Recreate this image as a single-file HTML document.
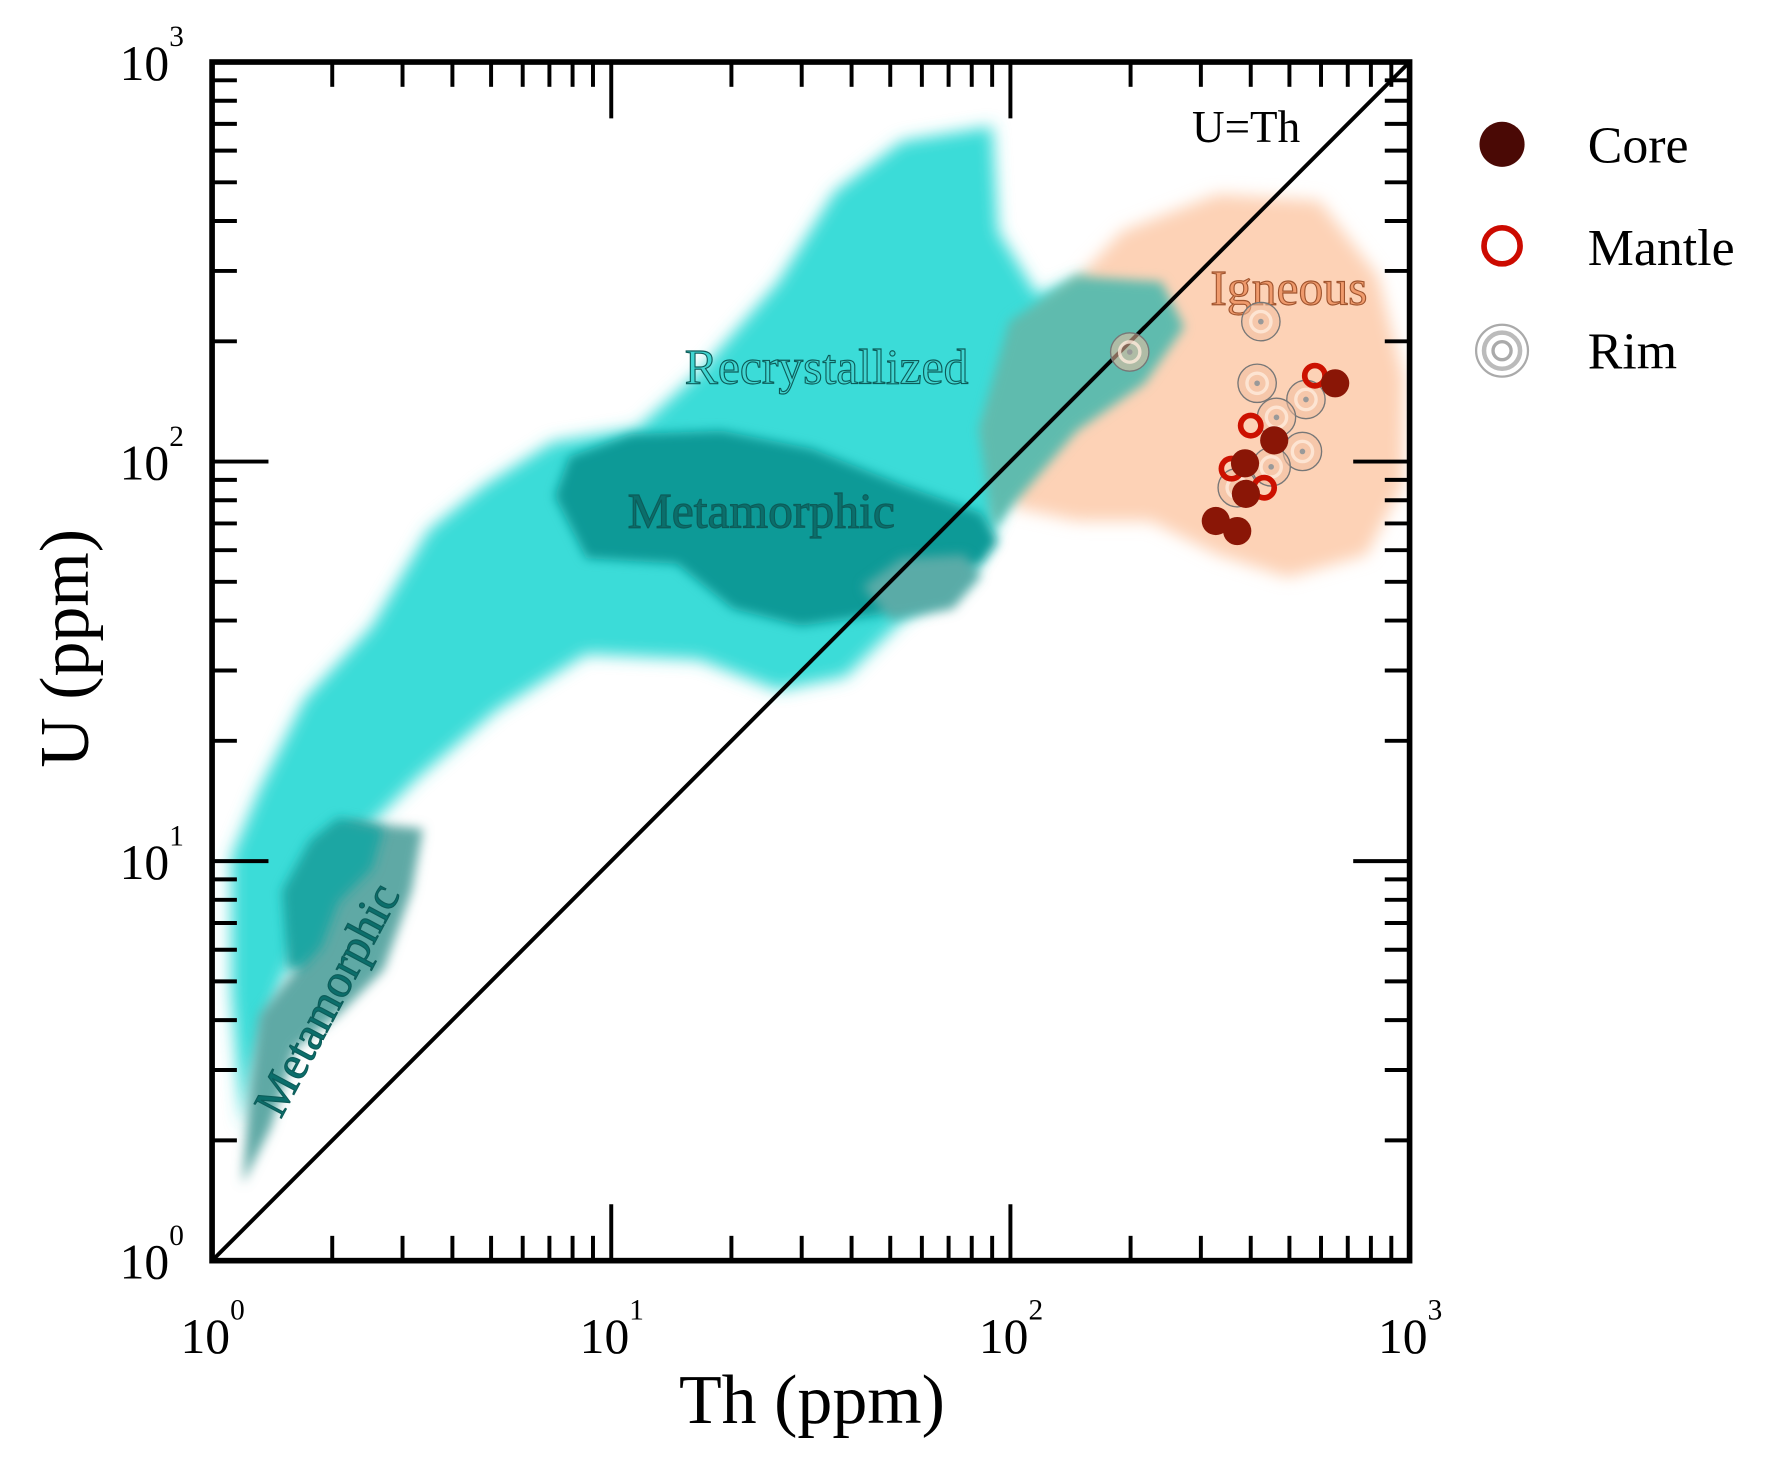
<!DOCTYPE html>
<html><head><meta charset="utf-8">
<style>
html,body{margin:0;padding:0;background:#fff;}
svg{display:block;}
svg text{font-family:"Liberation Serif","Times New Roman",serif;}
</style></head>
<body>
<svg id="chart" width="1766" height="1467" viewBox="0 0 1566 1301" xmlns="http://www.w3.org/2000/svg" font-family="Liberation Serif, serif">
<defs>
<filter id="blur" x="-20%" y="-20%" width="140%" height="140%"><feGaussianBlur stdDeviation="7"/></filter>
<filter id="blur2" x="-20%" y="-20%" width="140%" height="140%"><feGaussianBlur stdDeviation="5"/></filter>
<clipPath id="plotclip"><rect x="188" y="55" width="1062" height="1063"/></clipPath>
</defs>
<g clip-path="url(#plotclip)">
<path filter="url(#blur)" fill="#3adcd8" d="M215,1000 L205,880 L205,760 L230,700 L270,620 L330,555 L380,470 L430,430 L490,392 L565,380 L620,330 L690,250 L740,170 L800,125 L880,112 L885,205 L920,262 L960,245 L1000,260 L960,330 L900,390 L885,460 L860,510 L800,550 L750,600 L690,612 L620,585 L520,580 L440,630 L370,690 L330,730 L285,800 L250,870 L225,950 Z"/>
<path filter="url(#blur)" fill="#fdd2b6" d="M900,450 L880,380 L920,285 L995,205 L1080,172 L1170,178 L1222,245 L1245,335 L1244,430 L1212,492 L1142,512 L1080,492 L1020,462 L955,462 Z"/>
<path filter="url(#blur2)" fill="#5fbbae" d="M868,380 L895,285 L955,245 L1030,250 L1050,290 L1015,340 L955,382 L905,440 L880,470 Z"/>
<path filter="url(#blur2)" fill="#0f9a97" d="M492,440 L505,405 L560,385 L640,382 L720,398 L800,430 L870,455 L885,480 L870,500 L820,520 L780,545 L710,555 L650,540 L600,500 L520,495 Z"/>
<path filter="url(#blur2)" fill="#5aaba7" d="M765,520 L800,495 L855,492 L870,510 L845,540 L790,550 Z"/>
<path filter="url(#blur2)" fill="#5ea9a5" d="M215,1050 L222,960 L230,900 L262,860 L280,760 L312,728 L375,735 L365,790 L340,860 L300,900 L262,930 L240,1000 Z"/>
<path filter="url(#blur2)" fill="#1aa6a3" d="M255,860 L250,790 L275,745 L300,725 L340,735 L330,770 L300,800 L285,840 L268,858 Z"/>
</g>
<g stroke="#0c5c59" stroke-width="1">
<text x="733" y="340" font-size="44" text-anchor="middle" fill="#40d6d2">Recrystallized</text>
<text x="675" y="468" font-size="44" text-anchor="middle" fill="#0b6e6b">Metamorphic</text>
<text x="1143" y="270" font-size="44" text-anchor="middle" fill="#ef9a6c" stroke="#a0542e">Igneous</text>
<text x="0" y="0" font-size="42" text-anchor="middle" fill="#0b6e6b" transform="translate(302,893) rotate(-62)">Metamorphic</text>
</g>
<g id="axes"></g>
<g id="marks"></g>
<text x="1105" y="126" font-size="40" text-anchor="middle" fill="#000">U=Th</text>
<text x="720" y="1262" font-size="62" text-anchor="middle" fill="#000">Th (ppm)</text>
<text x="0" y="0" font-size="62" text-anchor="middle" fill="#000" transform="translate(78,575) rotate(-90)">U (ppm)</text>
<g>
<g>
<circle cx="1332" cy="128" r="20" fill="#4a0905"/>
<text x="1408" y="144" font-size="46" fill="#000">Core</text></g>
<g>
<circle cx="1332" cy="218" r="16" fill="none" stroke="#cc0a00" stroke-width="5"/>
<text x="1408" y="235" font-size="46" fill="#000">Mantle</text></g>
<g>
<circle cx="1332" cy="311" r="23" fill="none" stroke="#aaa" stroke-width="2"/>
<circle cx="1332" cy="311" r="16" fill="none" stroke="#bbb" stroke-width="4"/>
<circle cx="1332" cy="311" r="8" fill="none" stroke="#aaa" stroke-width="3"/>
<text x="1408" y="327" font-size="46" fill="#000">Rim</text></g>
</g>
</svg>
<script>
const xTickLabels = ["0","1","2","3"];
const yTickLabels = ["0","1","2","3"];
const coreTh = [327, 370, 387, 389, 458, 651];
const coreU  = [71, 67, 99, 83, 113, 157];
const mantleTh = [400, 358, 432, 579];
const mantleU  = [123, 96, 86, 164];
const rimTh = [199, 424, 415, 550, 464, 539, 450, 370];
const rimU  = [188, 224, 157, 143, 129, 106, 97, 86];

const X0=188, X1=1250, Y0=1118, Y1=55;
const NS="http://www.w3.org/2000/svg";
function xs(v){return X0+(Math.log10(v)-0)/3*(X1-X0);}
function ys(v){return Y0-(Math.log10(v)-0)/3*(Y0-Y1);}
function mk(tag,attrs,parent){const e=document.createElementNS(NS,tag);for(const k in attrs)e.setAttribute(k,attrs[k]);parent.appendChild(e);return e;}

const axes=document.getElementById('axes');
const diag=mk('line',{x1:xs(1),y1:ys(1),x2:xs(1000),y2:ys(1000),stroke:'#000','stroke-width':3.5},axes);


for(let d=0;d<3;d++){
  for(let m=1;m<=9;m++){
    const v=m*Math.pow(10,d);
    const major=(m===1);
    const len=major?50:22;
    const x=xs(v), y=ys(v);
    if(!(major&&d===0)){
      const t1=mk('line',{x1:x,y1:Y0,x2:x,y2:Y0-len,stroke:'#000','stroke-width':3.5},axes);
      
      
      const t2=mk('line',{x1:x,y1:Y1,x2:x,y2:Y1+len,stroke:'#000','stroke-width':3.5},axes);
      
      
      const t3=mk('line',{x1:X0,y1:y,x2:X0+len,y2:y,stroke:'#000','stroke-width':3.5},axes);
      
      
      const t4=mk('line',{x1:X1,y1:y,x2:X1-len,y2:y,stroke:'#000','stroke-width':3.5},axes);
      
      
    }
  }
}
const frame=mk('rect',{x:X0,y:Y1,width:X1-X0,height:Y0-Y1,fill:'none',stroke:'#000','stroke-width':5},axes);


xTickLabels.forEach((e,i)=>{
  const x=xs(Math.pow(10,+e));
  const t=mk('text',{x:x-28,y:1200,'font-size':44,fill:'#000'},axes);
  
  
  t.textContent='10';
  const s=mk('text',{x:x+16,y:1170,'font-size':26,fill:'#000'},axes);
  
  
  s.textContent=e;
});
yTickLabels.forEach((e,i)=>{
  const y=ys(Math.pow(10,+e));
  const t=mk('text',{x:106,y:y+16,'font-size':44,fill:'#000'},axes);
  
  
  t.textContent='10';
  const s=mk('text',{x:150,y:y-14,'font-size':26,fill:'#000'},axes);
  
  
  s.textContent=e;
});

const marks=document.getElementById('marks');
rimTh.forEach((v,i)=>{
  const g=mk('g',{},marks);
  
  
  const cx=xs(v), cy=ys(rimU[i]);
  mk('circle',{cx:cx,cy:cy,r:17,fill:'rgba(240,190,160,0.55)',stroke:'#777','stroke-width':1.2},g);
  mk('circle',{cx:cx,cy:cy,r:9,fill:'none',stroke:'rgba(255,235,220,0.8)','stroke-width':3},g);
  mk('circle',{cx:cx,cy:cy,r:2.5,fill:'#999'},g);
});
mantleTh.forEach((v,i)=>{
  const c=mk('circle',{cx:xs(v),cy:ys(mantleU[i]),r:9,fill:'none',stroke:'#cc1100','stroke-width':5},marks);
  
  
});
coreTh.forEach((v,i)=>{
  const c=mk('circle',{cx:xs(v),cy:ys(coreU[i]),r:12.5,fill:'#8a1606'},marks);
  
  
});
</script>
</body></html>
